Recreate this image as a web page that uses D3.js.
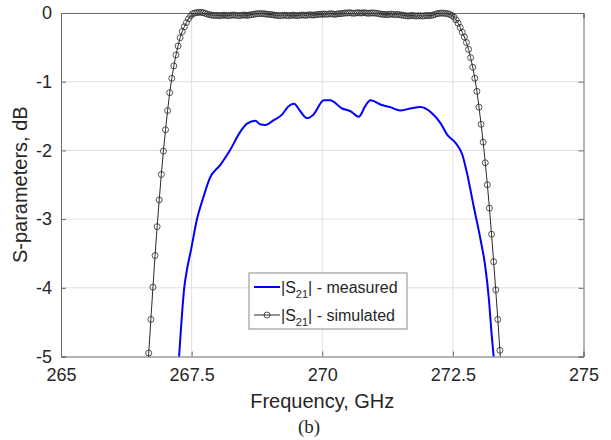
<!DOCTYPE html>
<html>
<head>
<meta charset="utf-8">
<script src="https://cdn.jsdelivr.net/npm/d3@7"></script>
<style>
    body { margin: 0; background: #fff; }
    svg text { font-family: "Liberation Sans", Arial, sans-serif; fill: #262626; }
</style>
</head>
<body>
<svg id="chart" width="611" height="440"></svg>
<script>
/*
    S21: измерение против моделирования.
*/

var xTicks = [265, 267.5, 270, 272.5, 275];
var yTicks = [0, -1, -2, -3, -4, -5];

// measured |S21|
var measFreq = [267.22, 267.26, 267.36, 267.41, 267.49, 267.60, 267.73, 267.85, 268.05, 268.24,
    268.43, 268.56, 268.72, 268.81, 268.91, 269.07, 269.23, 269.35, 269.46, 269.58,
    269.71, 269.83, 270.03, 270.15, 270.38, 270.54, 270.70, 270.82, 270.92, 271.14,
    271.30, 271.49, 271.69, 271.88, 272.10, 272.26, 272.39, 272.55, 272.68, 272.77,
    272.90, 273.03, 273.12, 273.19, 273.24, 273.28, 273.33];
var measDb = [-5.45, -5.0, -3.99, -3.74, -3.44, -3.01, -2.67, -2.40, -2.21, -1.99,
    -1.73, -1.61, -1.57, -1.62, -1.63, -1.56, -1.48, -1.36, -1.32, -1.43,
    -1.53, -1.48, -1.27, -1.27, -1.39, -1.43, -1.51, -1.36, -1.27, -1.34,
    -1.37, -1.42, -1.39, -1.37, -1.46, -1.60, -1.77, -1.89, -2.06, -2.33,
    -2.82, -3.30, -3.69, -4.17, -4.66, -5.0, -5.4];

// simulated |S21|
var simFreq = [266.64, 266.68, 266.72, 266.76, 266.80, 266.84, 266.88, 266.92, 266.96,
    267.00, 267.04, 267.08, 267.12, 267.16, 267.20, 267.24, 267.28, 267.32, 267.36, 267.40, 267.44, 267.48,
    267.52, 267.56, 267.60, 267.64, 267.68, 267.72, 267.76, 267.80, 267.84, 267.88, 267.92, 267.96,
    268.00, 268.04, 268.08, 268.12, 268.16, 268.20, 268.24, 268.28, 268.32, 268.36, 268.40, 268.44, 268.48,
    268.52, 268.56, 268.60, 268.64, 268.68, 268.72, 268.76, 268.80, 268.84, 268.88, 268.92, 268.96,
    269.00, 269.04, 269.08, 269.12, 269.16, 269.20, 269.24, 269.28, 269.32, 269.36, 269.40, 269.44, 269.48,
    269.52, 269.56, 269.60, 269.64, 269.68, 269.72, 269.76, 269.80, 269.84, 269.88, 269.92, 269.96,
    270.00, 270.04, 270.08, 270.12, 270.16, 270.20, 270.24, 270.28, 270.32, 270.36, 270.40, 270.44, 270.48,
    270.52, 270.56, 270.60, 270.64, 270.68, 270.72, 270.76, 270.80, 270.84, 270.88, 270.92, 270.96,
    271.00, 271.04, 271.08, 271.12, 271.16, 271.20, 271.24, 271.28, 271.32, 271.36, 271.40, 271.44, 271.48,
    271.52, 271.56, 271.60, 271.64, 271.68, 271.72, 271.76, 271.80, 271.84, 271.88, 271.92, 271.96,
    272.00, 272.04, 272.08, 272.12, 272.16, 272.20, 272.24, 272.28, 272.32, 272.36, 272.40, 272.44, 272.48,
    272.52, 272.56, 272.60, 272.64, 272.68, 272.72, 272.76, 272.80, 272.84, 272.88, 272.92, 272.96,
    273.00, 273.04, 273.08, 273.12, 273.16, 273.20, 273.24, 273.28, 273.32, 273.36, 273.40, 273.44];
var simDb = [-5.45,
    // left slope
    -4.95, -4.46, -3.99, -3.53, -3.11, -2.72, -2.35, -2.01, -1.70, -1.42, -1.16, -0.95,
    -0.77, -0.61, -0.48, -0.36, -0.27, -0.20, -0.14, -0.085, -0.04, -0.01, 0.0,
    // pass band
    0.005, 0.01, 0.01, 0.005, -0.005, -0.015, -0.025, -0.03, -0.035, -0.035,
    -0.035, -0.04, -0.035, -0.03, -0.035, -0.04, -0.035, -0.03, -0.03, -0.035,
    -0.04, -0.035, -0.03, -0.03, -0.035, -0.03, -0.025, -0.02, -0.015, -0.01,
    -0.01, -0.01, -0.01, -0.015, -0.02, -0.02, -0.025, -0.03, -0.035, -0.035,
    -0.04, -0.035, -0.03, -0.035, -0.04, -0.035, -0.03, -0.035, -0.04, -0.035,
    -0.03, -0.03, -0.035, -0.03, -0.025, -0.03, -0.03, -0.025, -0.02, -0.02,
    -0.015, -0.015, -0.02, -0.015, -0.01, -0.015, -0.02, -0.015, -0.01, -0.01,
    -0.005, 0.0, 0.0, 0.005, 0.0, -0.005, 0.0, 0.005, 0.0, 0.0,
    0.005, 0.0, -0.005, 0.0, 0.0, 0.0, -0.005, -0.01, -0.015, -0.02,
    -0.02, -0.025, -0.02, -0.015, -0.02, -0.025, -0.02, -0.025, -0.03, -0.035,
    -0.04, -0.045, -0.04, -0.035, -0.04, -0.045, -0.04, -0.04, -0.045, -0.04,
    -0.035, -0.04, -0.035, -0.03, -0.02, -0.01, -0.005, 0.0, -0.005, -0.005,
    -0.01, -0.02, -0.035,
    // right slope
    -0.06, -0.10, -0.15, -0.21, -0.28, -0.35, -0.43, -0.53, -0.65, -0.79, -0.95, -1.14,
    -1.37, -1.62, -1.88, -2.18, -2.50, -2.84, -3.22, -3.62, -4.03, -4.46, -4.91,
    -5.38];

var legendItems = [
    { sub: "21", rest: "| - measured", key: "meas" },
    { sub: "21", rest: "| - simulated", key: "sim" }
];

var W = 611, H = 440;
var plot = { left: 61, top: 13, right: 583.5, bottom: 356.5 };
var pw = plot.right - plot.left, ph = plot.bottom - plot.top;

var svg = d3.select("#chart");

var x = d3.scaleLinear().domain([265, 275]).range([0, pw]);
var y = d3.scaleLinear().domain([-5, 0]).range([ph, 0]);

var g = svg.append("g").attr("transform", "translate(" + plot.left + "," + plot.top + ")");

svg.append("defs").append("clipPath").attr("id", "clip")
    .append("rect").attr("width", pw).attr("height", ph);

// сетка
g.append("g").attr("class", "grid")
    .selectAll("line.gx").data(xTicks.slice(1, -1)).enter().append("line")
    .attr("x1", function(d) { return x(d); }).attr("x2", function(d) { return x(d); })
    .attr("y1", 0).attr("y2", ph)
    .attr("stroke", "#dfdfdf").attr("stroke-width", 1);
g.append("g").attr("class", "grid")
    .selectAll("line.gy").data(yTicks.slice(1, -1)).enter().append("line")
    .attr("y1", function(d) { return y(d); }).attr("y2", function(d) { return y(d); })
    .attr("x1", 0).attr("x2", pw)
    .attr("stroke", "#dfdfdf").attr("stroke-width", 1);

// оси: тики внутрь, как в MATLAB
var xAxis = d3.axisBottom(x).tickValues(xTicks).tickSize(-5).tickPadding(12)
    .tickFormat(function(d) { return d; });
var yAxis = d3.axisLeft(y).tickValues(yTicks).tickSize(-5).tickPadding(9)
    .tickFormat(function(d) { return d; });

var gx = g.append("g").attr("transform", "translate(0," + ph + ")").call(xAxis);
var gy = g.append("g").call(yAxis);
g.append("g").call(d3.axisTop(x).tickValues(xTicks).tickSize(-5).tickFormat(""));
g.append("g").attr("transform", "translate(" + pw + ",0)")
    .call(d3.axisRight(y).tickValues(yTicks).tickSize(-5).tickFormat(""));

g.selectAll(".domain").attr("stroke", "#6a6a6a");
g.selectAll(".tick line").attr("stroke", "#6a6a6a");
gx.selectAll("text").attr("font-size", 18).attr("fill", "#262626")
    .style("font-family", '"Liberation Sans", Arial, sans-serif');
gy.selectAll("text").attr("font-size", 18).attr("fill", "#262626")
    .style("font-family", '"Liberation Sans", Arial, sans-serif');

// данные
var meas = measFreq.map(function(f, i) { return [f, measDb[i]]; });
var sim = simFreq.map(function(f, i) { return [f, simDb[i]]; });

var data = g.append("g").attr("clip-path", "url(#clip)");

data.append("path").datum(sim)
    .attr("fill", "none").attr("stroke", "#2b2b2b").attr("stroke-width", 1)
    .attr("d", d3.line().x(function(d) { return x(d[0]); }).y(function(d) { return y(d[1]); }));

// маркеры не обрезаются, но только внутри диапазона осей
g.append("g").selectAll("circle.sim")
    .data(sim.filter(function(d) { return d[1] >= -5 && d[1] <= 0.05; }))
    .enter().append("circle")
    .attr("class", "sim")
    .attr("cx", function(d) { return x(d[0]); })
    .attr("cy", function(d) { return y(d[1]); })
    .attr("r", 3)
    .attr("fill", "none").attr("stroke", "#2b2b2b").attr("stroke-width", 0.8);

data.append("path").datum(meas)
    .attr("fill", "none").attr("stroke", "#0000ff").attr("stroke-width", 2)
    .attr("d", d3.line().curve(d3.curveMonotoneX)
        .x(function(d) { return x(d[0]); }).y(function(d) { return y(d[1]); }));

// подписи осей
svg.append("text")
    .attr("x", (plot.left + plot.right) / 2).attr("y", 408)
    .attr("text-anchor", "middle").attr("font-size", 20)
    .text("Frequency, GHz");

svg.append("text")
    .attr("transform", "translate(27," + ((plot.top + plot.bottom) / 2) + ") rotate(-90)")
    .attr("text-anchor", "middle").attr("font-size", 20)
    .text("S-parameters, dB");

svg.append("text")
    .attr("x", 309).attr("y", 433)
    .attr("text-anchor", "middle").attr("font-size", 19)
    .style("font-family", '"Liberation Serif", "Times New Roman", serif')
    .attr("fill", "#111")
    .text("(b)");

// легенда
var lg = svg.append("g").attr("transform", "translate(249,273)");
lg.append("rect").attr("width", 158).attr("height", 56)
    .attr("fill", "#fff").attr("stroke", "#8a8a8a").attr("stroke-width", 1);

var rows = lg.selectAll("g.row").data(legendItems).enter().append("g")
    .attr("class", "row")
    .attr("transform", function(d, i) { return "translate(0," + (14 + i * 28) + ")"; });

rows.append("line")
    .attr("x1", 5).attr("x2", 31).attr("y1", 0).attr("y2", 0)
    .attr("stroke", function(d) { return d.key === "meas" ? "#0000ff" : "#2b2b2b"; })
    .attr("stroke-width", function(d) { return d.key === "meas" ? 2 : 1; });
rows.filter(function(d) { return d.key === "sim"; }).append("circle")
    .attr("cx", 18).attr("cy", 0).attr("r", 3)
    .attr("fill", "none").attr("stroke", "#2b2b2b").attr("stroke-width", 0.8);

var t = rows.append("text").attr("x", 32).attr("y", 6).attr("font-size", 16);
t.append("tspan").text("|S");
t.append("tspan").attr("font-size", 11).attr("dy", 5).text(function(d) { return d.sub; });
t.append("tspan").attr("dy", -5).text(function(d) { return d.rest; });
</script>
</body>
</html>
